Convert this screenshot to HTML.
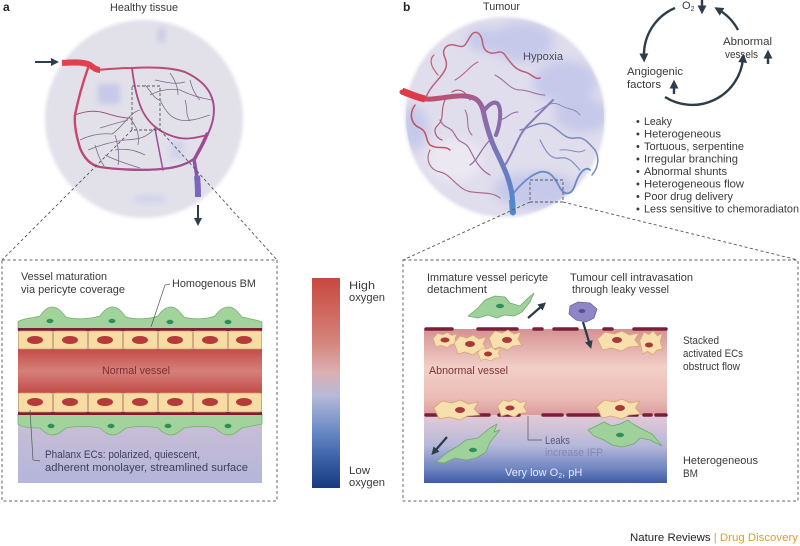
<!DOCTYPE html>
<html><head><meta charset="utf-8"><style>
html,body{margin:0;padding:0;background:#fff;}
svg{display:block;}
text{font-family:"Liberation Sans",sans-serif;fill:#3a3a3a;}
</style></head><body>
<svg width="800" height="546" viewBox="0 0 800 546" xmlns="http://www.w3.org/2000/svg">
<defs>
<filter id="soft" x="-10%" y="-10%" width="120%" height="120%"><feGaussianBlur stdDeviation="1.6"/></filter>
<filter id="blob" x="-50%" y="-50%" width="200%" height="200%"><feGaussianBlur stdDeviation="3"/></filter>
<filter id="blob2" x="-50%" y="-50%" width="200%" height="200%"><feGaussianBlur stdDeviation="5"/></filter>
<clipPath id="tc"><circle cx="505" cy="117" r="99"/></clipPath>
<linearGradient id="cbar" x1="0" y1="0" x2="0" y2="1">
<stop offset="0" stop-color="#c8483f"/><stop offset="0.3" stop-color="#d4837a"/><stop offset="0.45" stop-color="#dbafb2"/><stop offset="0.56" stop-color="#b7b9d9"/><stop offset="0.72" stop-color="#6d8cc6"/><stop offset="0.87" stop-color="#3a5ea5"/><stop offset="1" stop-color="#183a7e"/></linearGradient>
<linearGradient id="lLumen" x1="0" y1="0" x2="0" y2="1"><stop offset="0" stop-color="#c24c48"/><stop offset="0.5" stop-color="#d6807a"/><stop offset="1" stop-color="#c24c48"/></linearGradient>
<linearGradient id="lBelow" x1="0" y1="0" x2="0" y2="1"><stop offset="0" stop-color="#ebcdd0"/><stop offset="1" stop-color="#b3b5da"/></linearGradient>
<linearGradient id="rLumen" x1="0" y1="0" x2="0" y2="1"><stop offset="0" stop-color="#d69192"/><stop offset="0.45" stop-color="#f2cfc8"/><stop offset="0.8" stop-color="#ecbcb6"/><stop offset="1" stop-color="#d99c9c"/></linearGradient>
<linearGradient id="rBelow" x1="0" y1="0" x2="0" y2="1"><stop offset="0" stop-color="#e4cad6"/><stop offset="0.45" stop-color="#b6b8da"/><stop offset="0.8" stop-color="#6d83c0"/><stop offset="1" stop-color="#3d5ba3"/></linearGradient>
<linearGradient id="trunk" gradientUnits="userSpaceOnUse" x1="402" y1="92" x2="513" y2="213"><stop offset="0" stop-color="#d8404c"/><stop offset="0.45" stop-color="#8e6aa8"/><stop offset="1" stop-color="#4f8ad0"/></linearGradient>
<linearGradient id="lnet" gradientUnits="userSpaceOnUse" x1="70" y1="60" x2="200" y2="190"><stop offset="0" stop-color="#d8465a"/><stop offset="1" stop-color="#9050a0"/></linearGradient>
<marker id="ah" viewBox="0 0 10 10" refX="5" refY="5" markerWidth="8" markerHeight="8" markerUnits="userSpaceOnUse" orient="auto"><path d="M0,0 L10,5 L0,10 Z" fill="#2e3d4a"/></marker>
<marker id="ahb" viewBox="0 0 10 10" refX="4" refY="5" markerWidth="9" markerHeight="9" markerUnits="userSpaceOnUse" orient="auto"><path d="M0,0 L10,5 L0,10 Z" fill="#2e3d4a"/></marker>
</defs>

<text x="3" y="11" font-size="12" font-weight="bold" style="fill:#222">a</text>
<text x="110" y="11" font-size="11" textLength="68" lengthAdjust="spacingAndGlyphs">Healthy tissue</text>
<text x="403" y="11" font-size="12" font-weight="bold" style="fill:#222">b</text>
<text x="483" y="10" font-size="11" textLength="37" lengthAdjust="spacingAndGlyphs">Tumour</text>

<!-- Healthy circle -->
<circle cx="144" cy="119" r="99" fill="#e2e1ea" filter="url(#soft)"/>
<rect x="98" y="84" width="22" height="20" fill="#c6c9e7" filter="url(#blob)"/>
<rect x="158" y="28" width="7" height="14" fill="#c6c9e7" filter="url(#blob)"/>
<rect x="135" y="195" width="30" height="8" fill="#d2d3ea" filter="url(#blob)"/>
<rect x="170" y="140" width="14" height="20" fill="#d2d3ea" filter="url(#blob)"/>
<g fill="none" stroke="#7d6a86" stroke-width="0.8">
<path d="M100,128 C110,125 120,122 128,120"/>
<path d="M88,150 C100,145 110,142 125,140 C135,139 145,140 155,128"/>
<path d="M80,140 C90,135 100,133 112,134"/>
<path d="M115,150 C125,148 135,150 145,155"/>
<path d="M105,155 C115,160 130,165 140,168"/>
<path d="M150,95 C160,90 170,88 180,90 C190,95 200,98 212,100"/>
<path d="M155,80 C165,82 175,85 185,82"/>
<path d="M160,100 C165,110 170,118 180,120 C190,122 200,118 210,115"/>
<path d="M170,73 C175,80 178,88 178,95"/>
<path d="M190,80 C192,88 195,95 200,100"/>
<path d="M145,85 C150,90 155,100 160,100"/>
<path d="M115,135 C118,145 120,155 118,165"/>
<path d="M130,118 C135,125 140,132 138,145"/>
<path d="M95,145 C98,155 100,160 104,166"/>
<path d="M140,110 C130,112 122,128 112,134"/>
<path d="M185,100 C188,108 185,115 190,121"/>
</g>
<g fill="none" stroke-linecap="round">
<path d="M75,115 C85,111 95,110 105,113 C115,116 122,118 130,118" stroke="#9a5a80" stroke-width="1"/>
<path d="M155,128 C157,140 160,155 163,170" stroke="#9a5090" stroke-width="1.5"/>
<path d="M132,68 C134,85 137,100 143,112 C150,125 160,132 172,136 C183,140 192,139 207,135" stroke="#a84a80" stroke-width="1.8"/>
<path d="M96,70 C110,69 120,68 132,68 C150,67 170,67 185,72 C198,78 208,86 212,98 C216,110 214,122 207,136" stroke="url(#lnet)" stroke-width="2"/>
<path d="M88,68 C82,85 78,100 75,115 C74,125 76,135 80,148 C84,158 90,165 100,167 C120,170 150,171 170,168 C182,166 190,162 195,158" stroke="url(#lnet)" stroke-width="2.4"/>
<path d="M207,134 C203,145 198,152 194,160" stroke="#a04a90" stroke-width="3.5"/>
<path d="M194,160 C196,170 197,176 197,180" stroke="#8c56a8" stroke-width="3.5"/>
</g>
<path d="M62,63 C75,62 85,62 90,65 C94,68 96,70 100,70" fill="none" stroke="#e2404e" stroke-width="6"/>
<path d="M197,176 C198,185 198,190 198,197" fill="none" stroke="#7a66c0" stroke-width="6"/>
<rect x="132" y="86" width="28" height="44" fill="none" stroke="#555" stroke-width="0.9" stroke-dasharray="3,2"/>
<line x1="35" y1="62" x2="55" y2="62" stroke="#2e3d4a" stroke-width="2" marker-end="url(#ah)"/>
<line x1="198" y1="205" x2="198" y2="222" stroke="#2e3d4a" stroke-width="2" marker-end="url(#ah)"/>
<line x1="132" y1="130" x2="2" y2="260" stroke="#555" stroke-width="0.9" stroke-dasharray="3,2.5"/>
<line x1="160" y1="130" x2="277" y2="260" stroke="#555" stroke-width="0.9" stroke-dasharray="3,2.5"/>

<!-- Tumour circle -->
<circle cx="505" cy="117" r="100" fill="#e0ddec" filter="url(#soft)"/>
<g clip-path="url(#tc)">
<g fill="#c6c9ea" filter="url(#blob2)">
<ellipse cx="522" cy="42" rx="32" ry="20"/>
<ellipse cx="565" cy="82" rx="32" ry="22"/>
<ellipse cx="414" cy="128" rx="14" ry="22"/>
<ellipse cx="582" cy="115" rx="28" ry="18"/>
<ellipse cx="535" cy="190" rx="42" ry="18"/>
<ellipse cx="485" cy="40" rx="18" ry="12"/>
</g>
<ellipse cx="455" cy="160" rx="28" ry="22" fill="#ebe8f2" filter="url(#blob2)"/>
</g>
<text x="523" y="60" font-size="11" textLength="40" lengthAdjust="spacingAndGlyphs" style="fill:#4a4a60">Hypoxia</text>
<g fill="none" stroke-linecap="round">
<path d="M425,100 C430,85 440,80 445,70 C450,60 440,55 445,48 C452,40 460,50 465,45 C470,38 472,30 478,33 C485,38 480,48 488,52 C495,56 500,48 505,55 C510,62 515,70 525,72 C532,74 535,80 540,78" stroke="#b8607a" stroke-width="1.5"/>
<path d="M415,105 C408,115 412,125 420,128 C428,132 425,140 430,145 C438,150 445,145 450,150" stroke="#c05060" stroke-width="1.5"/>
<path d="M440,120 C445,130 450,125 455,135 C460,145 465,140 470,150 C475,160 480,170 490,175" stroke="#9a6a9a" stroke-width="1.2"/>
<path d="M430,150 C425,160 430,170 440,172 C450,174 455,185 465,190 C475,195 490,190 500,198" stroke="#a87090" stroke-width="1.2"/>
<path d="M520,130 C530,128 540,120 550,125 C560,130 565,140 575,138 C585,136 590,145 595,150 C600,158 598,168 592,175" stroke="#7a8ac0" stroke-width="1.5"/>
<path d="M540,140 C545,150 550,160 560,158 C570,156 575,165 580,170" stroke="#8090c0" stroke-width="1.2"/>
<path d="M455,80 C465,75 470,65 478,62" stroke="#b06080" stroke-width="1"/>
<path d="M495,75 C505,80 510,90 520,90 C530,90 535,95 545,95" stroke="#9a6a9a" stroke-width="1"/>
<path d="M465,110 C470,118 465,128 472,135" stroke="#a06a90" stroke-width="1"/>
<path d="M445,100 C440,110 445,118 438,125 C432,130 436,138 442,140" stroke="#b06070" stroke-width="1.2"/>
<path d="M470,100 C465,90 458,88 452,92" stroke="#b05a72" stroke-width="1.2"/>
<path d="M535,112 C545,108 550,100 560,105 C568,110 575,108 580,115" stroke="#8a8ac0" stroke-width="1"/>
<path d="M560,150 C570,148 578,155 585,150" stroke="#7a90c8" stroke-width="1"/>
<path d="M438,75 C432,68 428,60 434,55" stroke="#c06070" stroke-width="1.2"/>
<path d="M505,165 C515,150 518,135 528,125 C538,115 545,108 553,100" stroke="#8a7ab8" stroke-width="2"/>
<path d="M512,195 C520,185 530,175 540,172 C550,170 555,178 560,188 C565,196 572,195 575,185 C578,175 585,165 590,170" stroke="#6a8ac8" stroke-width="1.8"/>
<path d="M490,140 C480,150 478,160 470,165" stroke="#8a6aa0" stroke-width="1.2"/>
<path d="M500,120 C508,118 510,112 518,112" stroke="#8a6aa8" stroke-width="1"/>
<path d="M483,112 C488,105 494,100 498,104 C502,110 500,125 496,135" stroke="#8a6aa8" stroke-width="4"/>
<path d="M402,92 C412,96 420,100 432,99 C445,98 455,95 465,96 C475,97 480,100 483,110 C486,125 490,140 498,155 C504,168 510,180 512,195 C513,203 513,208 513,213" stroke="url(#trunk)" stroke-width="5"/>
</g>
<path d="M402,91 C410,94 416,97 425,99" fill="none" stroke="#dc3c48" stroke-width="7"/>
<path d="M512,200 L513,214" fill="none" stroke="#4f8ad0" stroke-width="6"/>
<rect x="530" y="180" width="33" height="22" fill="none" stroke="#555" stroke-width="0.9" stroke-dasharray="3,2"/>
<line x1="530" y1="202" x2="403" y2="260" stroke="#555" stroke-width="0.9" stroke-dasharray="3,2.5"/>
<line x1="563" y1="202" x2="798" y2="260" stroke="#555" stroke-width="0.9" stroke-dasharray="3,2.5"/>

<!-- Cycle -->
<g fill="none" stroke="#2e3d4a" stroke-width="2.4">
<path d="M675,8 A51,51 0 0 0 644,57" marker-end="url(#ahb)"/>
<path d="M665,97 A51,51 0 0 0 743,59" marker-end="url(#ahb)"/>
<path d="M738,30 A51,51 0 0 0 719,10" marker-end="url(#ahb)"/>
<line x1="702" y1="0" x2="702" y2="9" marker-end="url(#ahb)"/>
<line x1="768" y1="64" x2="768" y2="55" marker-end="url(#ahb)"/>
<line x1="674" y1="94" x2="674" y2="85" marker-end="url(#ahb)"/>
</g>
<text x="682" y="9" font-size="11">O<tspan font-size="7" dy="2">2</tspan></text>
<text x="723" y="45" font-size="11" textLength="49" lengthAdjust="spacingAndGlyphs">Abnormal</text>
<text x="725" y="58" font-size="11" textLength="33" lengthAdjust="spacingAndGlyphs">vessels</text>
<text x="627" y="75" font-size="11" textLength="56" lengthAdjust="spacingAndGlyphs">Angiogenic</text>
<text x="627" y="88" font-size="11" textLength="34" lengthAdjust="spacingAndGlyphs">factors</text>

<g font-size="11">
<text x="636" y="125">•</text><text x="644" y="125" textLength="28" lengthAdjust="spacingAndGlyphs">Leaky</text>
<text x="636" y="137.5">•</text><text x="644" y="137.5" textLength="77" lengthAdjust="spacingAndGlyphs">Heterogeneous</text>
<text x="636" y="150">•</text><text x="644" y="150" textLength="100" lengthAdjust="spacingAndGlyphs">Tortuous, serpentine</text>
<text x="636" y="162.5">•</text><text x="644" y="162.5" textLength="94" lengthAdjust="spacingAndGlyphs">Irregular branching</text>
<text x="636" y="175">•</text><text x="644" y="175" textLength="83" lengthAdjust="spacingAndGlyphs">Abnormal shunts</text>
<text x="636" y="187.5">•</text><text x="644" y="187.5" textLength="100" lengthAdjust="spacingAndGlyphs">Heterogeneous flow</text>
<text x="636" y="200">•</text><text x="644" y="200" textLength="89" lengthAdjust="spacingAndGlyphs">Poor drug delivery</text>
<text x="636" y="212.5">•</text><text x="644" y="212.5" textLength="155" lengthAdjust="spacingAndGlyphs">Less sensitive to chemoradiaton</text>
</g>

<!-- Left dashed box -->
<rect x="2" y="260" width="275" height="241" fill="none" stroke="#666" stroke-width="1" stroke-dasharray="3,2.5"/>
<text x="21" y="280" font-size="11" textLength="86" lengthAdjust="spacingAndGlyphs">Vessel maturation</text>
<text x="21" y="293" font-size="11" textLength="104" lengthAdjust="spacingAndGlyphs">via pericyte coverage</text>
<text x="172" y="287" font-size="11" textLength="84" lengthAdjust="spacingAndGlyphs">Homogenous BM</text>
<rect x="18" y="330" width="244" height="153" fill="url(#lBelow)"/>
<rect x="18" y="349" width="244" height="44" fill="url(#lLumen)"/>
<path d="M18,330 L18,322 C22,318 35,318 40,316 C44,310 48,307 52,307 C58,307 62,312 66,317 C75,320 90,319 100,316 C104,310 108,307 113,307 C118,307 122,312 126,317 C135,320 150,319 158,316 C162,310 166,307 171,307 C176,307 180,312 184,317 C193,320 208,319 215,316 C219,310 224,307 229,307 C234,307 238,312 242,317 C250,319 258,320 262,322 L262,330 Z" fill="#a3d39c" stroke="#78ae70" stroke-width="0.8"/>
<path d="M18,414 L18,424 C22,428 35,428 40,428 C44,432 48,435 52,435 C58,435 62,431 66,428 C75,426 90,426 100,428 C104,432 108,435 113,435 C118,435 122,431 126,428 C135,426 150,426 158,428 C162,432 166,435 171,435 C176,435 180,431 184,428 C193,426 208,426 215,428 C219,432 224,435 229,435 C234,435 238,431 242,428 C250,426 258,425 262,424 L262,414 Z" fill="#a3d39c" stroke="#78ae70" stroke-width="0.8"/>
<g fill="#2e8f5a"><ellipse cx="50" cy="321" rx="3.5" ry="2.2"/><ellipse cx="112" cy="321" rx="3.5" ry="2.2"/><ellipse cx="170" cy="322" rx="3.5" ry="2.2"/><ellipse cx="228" cy="322" rx="3.5" ry="2.2"/>
<ellipse cx="51" cy="426" rx="3.5" ry="2.2"/><ellipse cx="111" cy="426" rx="3.5" ry="2.2"/><ellipse cx="168" cy="426" rx="3.5" ry="2.2"/><ellipse cx="228" cy="426" rx="3.5" ry="2.2"/></g>
<rect x="18" y="328" width="244" height="3" fill="#7a1f35"/>
<rect x="18" y="412" width="244" height="3" fill="#7a1f35"/>
<g fill="#f8dca4" stroke="#c9a072" stroke-width="0.8">
<rect x="18.5" y="331" width="34" height="18" rx="2"/><rect x="53.5" y="331" width="34" height="18" rx="2"/><rect x="88.5" y="331" width="34" height="18" rx="2"/><rect x="123.5" y="331" width="34" height="18" rx="2"/><rect x="158.5" y="331" width="34" height="18" rx="2"/><rect x="193.5" y="331" width="34" height="18" rx="2"/><rect x="228.5" y="331" width="33" height="18" rx="2"/>
<rect x="18.5" y="393" width="34" height="19" rx="2"/><rect x="53.5" y="393" width="34" height="19" rx="2"/><rect x="88.5" y="393" width="34" height="19" rx="2"/><rect x="123.5" y="393" width="34" height="19" rx="2"/><rect x="158.5" y="393" width="34" height="19" rx="2"/><rect x="193.5" y="393" width="34" height="19" rx="2"/><rect x="228.5" y="393" width="33" height="19" rx="2"/>
</g>
<g fill="#b73a3a">
<ellipse cx="35" cy="340" rx="8" ry="4"/><ellipse cx="70" cy="340" rx="8" ry="4"/><ellipse cx="105" cy="340" rx="8" ry="4"/><ellipse cx="140" cy="340" rx="8" ry="4"/><ellipse cx="175" cy="340" rx="8" ry="4"/><ellipse cx="210" cy="340" rx="8" ry="4"/><ellipse cx="244" cy="340" rx="8" ry="4"/>
<ellipse cx="35" cy="402" rx="8" ry="4"/><ellipse cx="70" cy="402" rx="8" ry="4"/><ellipse cx="105" cy="402" rx="8" ry="4"/><ellipse cx="140" cy="402" rx="8" ry="4"/><ellipse cx="175" cy="402" rx="8" ry="4"/><ellipse cx="210" cy="402" rx="8" ry="4"/><ellipse cx="244" cy="402" rx="8" ry="4"/>
</g>
<text x="102" y="374" font-size="11" textLength="68" lengthAdjust="spacingAndGlyphs" style="fill:#7a2e2e">Normal vessel</text>
<path d="M170,284 L165,285 L151,327" fill="none" stroke="#555" stroke-width="0.7"/>
<path d="M30,410 L33,460 L40,461" fill="none" stroke="#555" stroke-width="0.7"/>
<text x="45" y="458" font-size="11" textLength="155" lengthAdjust="spacingAndGlyphs" style="fill:#3d3d5c">Phalanx ECs: polarized, quiescent,</text>
<text x="45" y="471" font-size="11" textLength="203" lengthAdjust="spacingAndGlyphs" style="fill:#3d3d5c">adherent monolayer, streamlined surface</text>

<rect x="312" y="278" width="28" height="210" fill="url(#cbar)"/>
<text x="349" y="289" font-size="11" textLength="26" lengthAdjust="spacingAndGlyphs">High</text>
<text x="349" y="301" font-size="11" textLength="36" lengthAdjust="spacingAndGlyphs">oxygen</text>
<text x="349" y="474" font-size="11" textLength="21" lengthAdjust="spacingAndGlyphs">Low</text>
<text x="349" y="486" font-size="11" textLength="36" lengthAdjust="spacingAndGlyphs">oxygen</text>

<!-- Right dashed box -->
<rect x="403" y="260" width="395" height="241" fill="none" stroke="#666" stroke-width="1" stroke-dasharray="3,2.5"/>
<text x="427" y="281" font-size="11" textLength="121" lengthAdjust="spacingAndGlyphs">Immature vessel pericyte</text>
<text x="427" y="293" font-size="11" textLength="60" lengthAdjust="spacingAndGlyphs">detachment</text>
<text x="570" y="281" font-size="11" textLength="123" lengthAdjust="spacingAndGlyphs">Tumour cell intravasation</text>
<text x="572" y="293" font-size="11" textLength="97" lengthAdjust="spacingAndGlyphs">through leaky vessel</text>
<text x="683" y="344" font-size="11" textLength="36" lengthAdjust="spacingAndGlyphs">Stacked</text>
<text x="683" y="357" font-size="11" textLength="60" lengthAdjust="spacingAndGlyphs">activated ECs</text>
<text x="683" y="370" font-size="11" textLength="57" lengthAdjust="spacingAndGlyphs">obstruct flow</text>
<text x="683" y="464" font-size="11" textLength="75" lengthAdjust="spacingAndGlyphs">Heterogeneous</text>
<text x="683" y="477" font-size="11" textLength="15" lengthAdjust="spacingAndGlyphs">BM</text>

<rect x="424" y="329" width="243" height="86" fill="url(#rLumen)"/>
<rect x="424" y="415" width="243" height="68" fill="url(#rBelow)"/>
<g stroke="#7a1f3a" stroke-width="3.5" stroke-linecap="round">
<line x1="426" y1="329" x2="452" y2="329"/><line x1="478" y1="329" x2="517" y2="329"/><line x1="534" y1="329" x2="542" y2="329"/><line x1="554" y1="329" x2="577" y2="329"/><line x1="604" y1="329" x2="612" y2="329"/><line x1="634" y1="329" x2="666" y2="329"/>
<line x1="426" y1="415" x2="451" y2="415"/><line x1="461" y1="415" x2="489" y2="415"/><line x1="499" y1="415" x2="519" y2="415"/><line x1="543" y1="415" x2="562" y2="415"/><line x1="568" y1="415" x2="601" y2="415"/><line x1="616" y1="415" x2="637" y2="415"/><line x1="644" y1="415" x2="651" y2="415"/><line x1="656" y1="415" x2="666" y2="415"/>
</g>
<g fill="#f8dfae" stroke="#d4a676" stroke-width="0.8" stroke-linejoin="round">
<path transform="translate(445,340) scale(0.75)" d="M-16,-2 L-10,-9 L-3,-7 L3,-10 L9,-6 L16,-8 L13,-1 L17,5 L8,6 L3,10 L-5,7 L-12,9 L-14,3 Z"/>
<path transform="translate(470,345)" d="M-16,-2 L-10,-9 L-3,-7 L3,-10 L9,-6 L16,-8 L13,-1 L17,5 L8,6 L3,10 L-5,7 L-12,9 L-14,3 Z"/>
<path transform="translate(505,340)" d="M-16,-2 L-10,-9 L-3,-7 L3,-10 L9,-6 L16,-8 L13,-1 L17,5 L8,6 L3,10 L-5,7 L-12,9 L-14,3 Z"/>
<path transform="translate(489,354) scale(0.7)" d="M-16,-2 L-10,-9 L-3,-7 L3,-10 L9,-6 L16,-8 L13,-1 L17,5 L8,6 L3,10 L-5,7 L-12,9 L-14,3 Z"/>
<path transform="translate(618,341) scale(1.3,1)" d="M-16,-2 L-10,-9 L-3,-7 L3,-10 L9,-6 L16,-8 L13,-1 L17,5 L8,6 L3,10 L-5,7 L-12,9 L-14,3 Z"/>
<path transform="translate(651,343) scale(0.7,1.2)" d="M-16,-2 L-10,-9 L-3,-7 L3,-10 L9,-6 L16,-8 L13,-1 L17,5 L8,6 L3,10 L-5,7 L-12,9 L-14,3 Z"/>
<path transform="translate(456,410) scale(1.4,1)" d="M-16,-2 L-10,-9 L-3,-7 L3,-10 L9,-6 L16,-8 L13,-1 L17,5 L8,6 L3,10 L-5,7 L-12,9 L-14,3 Z"/>
<path transform="translate(512,408) scale(0.9)" d="M-16,-2 L-10,-9 L-3,-7 L3,-10 L9,-6 L16,-8 L13,-1 L17,5 L8,6 L3,10 L-5,7 L-12,9 L-14,3 Z"/>
<path transform="translate(618,409) scale(1.35,1)" d="M-16,-2 L-10,-9 L-3,-7 L3,-10 L9,-6 L16,-8 L13,-1 L17,5 L8,6 L3,10 L-5,7 L-12,9 L-14,3 Z"/>
</g>
<g fill="#a83a3a">
<ellipse cx="445" cy="340" rx="4.5" ry="2.5"/><ellipse cx="470" cy="344" rx="5" ry="3"/><ellipse cx="507" cy="340" rx="5" ry="3"/><ellipse cx="488" cy="354" rx="4" ry="2.5"/><ellipse cx="617" cy="340" rx="5" ry="3"/><ellipse cx="649" cy="345" rx="4" ry="2.5"/><ellipse cx="460" cy="410" rx="5" ry="3"/><ellipse cx="510" cy="408" rx="4.5" ry="2.5"/><ellipse cx="620" cy="408" rx="5" ry="3"/>
</g>
<text x="429" y="374" font-size="11" textLength="79" lengthAdjust="spacingAndGlyphs" style="fill:#7a3535">Abnormal vessel</text>
<g fill="#9fd19a" stroke="#6ea86e" stroke-width="0.8" stroke-linejoin="round">
<path d="M468,316 L478,308 L485,300 L495,296 L505,297 L510,303 L520,306 L528,298 L534,293 L530,302 L522,312 L514,316 L504,315 L497,318 L488,315 L478,318 Z"/>
<path d="M436,462 L448,452 L458,446 L466,440 L478,438 L485,432 L490,428 L497,424 L494,432 L500,430 L490,442 L486,452 L476,458 L466,460 L455,458 L444,463 Z"/>
<path d="M588,430 L596,426 L604,422 L612,426 L620,424 L628,420 L633,424 L640,428 L652,434 L662,446 L650,440 L640,438 L634,444 L622,447 L612,445 L604,440 L594,436 Z"/>
</g>
<g fill="#2e8f5a"><ellipse cx="500" cy="306" rx="4" ry="2.2"/><ellipse cx="473" cy="450" rx="4" ry="2.2"/><ellipse cx="620" cy="435" rx="4" ry="2.2"/></g>
<path d="M570,306 L578,302 L590,303 L597,309 L594,318 L586,322 L576,320 L569,314 Z" fill="#8f86c8" stroke="#6a62a6" stroke-width="0.8" stroke-linejoin="round"/>
<ellipse cx="582" cy="311" rx="3.5" ry="2" fill="#5a4f96"/>
<g stroke="#2b3a4a" stroke-width="2.2" fill="none">
<line x1="528" y1="318" x2="543" y2="305" marker-end="url(#ah)"/>
<line x1="583" y1="322" x2="590" y2="345" marker-end="url(#ah)"/>
<line x1="447" y1="437" x2="434" y2="452" marker-end="url(#ah)"/>
</g>
<path d="M528,416 L528,440 L542,440" fill="none" stroke="#555" stroke-width="0.7"/>
<text x="545" y="444" font-size="11" textLength="25" lengthAdjust="spacingAndGlyphs" style="fill:#55577a">Leaks</text>
<text x="545" y="456" font-size="11" textLength="58" lengthAdjust="spacingAndGlyphs" style="fill:#8587b8">increase IFP</text>
<text x="505" y="476" font-size="11" style="fill:#e4e8f6">Very low O<tspan font-size="7" dy="2" style="fill:#e4e8f6">2</tspan><tspan dy="-2" style="fill:#e4e8f6">, pH</tspan></text>

<text x="630" y="541" font-size="11" textLength="168" lengthAdjust="spacingAndGlyphs" style="fill:#222">Nature Reviews <tspan style="fill:#e29a35">|</tspan> <tspan style="fill:#e29a35">Drug Discovery</tspan></text>
</svg>
</body></html>
